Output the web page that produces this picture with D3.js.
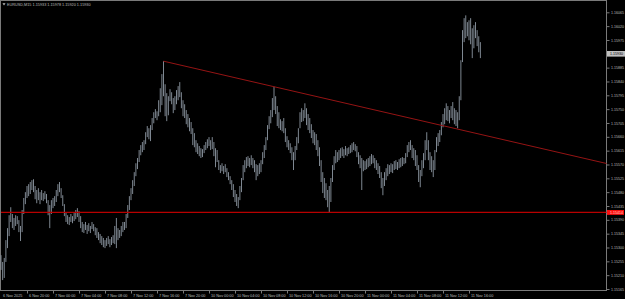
<!DOCTYPE html>
<html>
<head>
<meta charset="utf-8">
<script src="https://cdn.jsdelivr.net/npm/d3@7"></script>
<style>
html, body { margin: 0; padding: 0; background: #000; overflow: hidden; }
</style>
</head>
<body>
<div id="chart"></div>
<script>
// EURUSD M15 bars, first bar = 6 Nov 2025 16:00
var highs = [
  1.15275,1.15253,1.15266,1.15324,1.15363,1.15405,1.15431,1.15409,1.15396,1.15405,
  1.15402,1.15389,1.15370,1.15422,1.15461,1.15480,1.15500,1.15506,1.15513,1.15519,
  1.15522,1.15500,1.15487,1.15493,1.15480,1.15487,1.15477,1.15483,1.15474,1.15454,
  1.15438,1.15454,1.15461,1.15467,1.15487,1.15506,1.15513,1.15493,1.15470,1.15441,
  1.15415,1.15405,1.15399,1.15409,1.15402,1.15412,1.15422,1.15428,1.15418,1.15402,
  1.15383,1.15376,1.15383,1.15373,1.15379,1.15370,1.15383,1.15376,1.15366,1.15363,
  1.15350,1.15344,1.15337,1.15331,1.15324,1.15331,1.15337,1.15327,1.15334,1.15340,
  1.15370,1.15396,1.15363,1.15357,1.15370,1.15383,1.15383,1.15409,1.15438,1.15467,
  1.15493,1.15519,1.15545,1.15574,1.15591,1.15617,1.15633,1.15643,1.15649,1.15675,
  1.15695,1.15688,1.15698,1.15721,1.15740,1.15750,1.15743,1.15779,1.15818,1.15864,
  1.15906,1.15831,1.15802,1.15792,1.15815,1.15805,1.15786,1.15792,1.15812,1.15825,
  1.15838,1.15805,1.15779,1.15766,1.15747,1.15734,1.15721,1.15708,1.15688,1.15672,
  1.15649,1.15639,1.15630,1.15623,1.15620,1.15633,1.15643,1.15652,1.15659,1.15649,
  1.15659,1.15643,1.15623,1.15617,1.15584,1.15568,1.15574,1.15565,1.15571,1.15558,
  1.15545,1.15532,1.15519,1.15506,1.15487,1.15474,1.15464,1.15500,1.15526,1.15568,
  1.15584,1.15594,1.15597,1.15591,1.15600,1.15591,1.15584,1.15571,1.15568,1.15574,
  1.15584,1.15610,1.15633,1.15659,1.15698,1.15727,1.15747,1.15786,1.15823,1.15792,
  1.15760,1.15740,1.15717,1.15711,1.15721,1.15688,1.15662,1.15649,1.15639,1.15626,
  1.15610,1.15630,1.15659,1.15688,1.15740,1.15753,1.15747,1.15769,1.15753,1.15734,
  1.15721,1.15701,1.15682,1.15675,1.15669,1.15649,1.15626,1.15584,1.15545,1.15526,
  1.15509,1.15487,1.15500,1.15526,1.15568,1.15597,1.15617,1.15610,1.15617,1.15623,
  1.15626,1.15620,1.15630,1.15623,1.15626,1.15633,1.15639,1.15643,1.15636,1.15630,
  1.15610,1.15600,1.15591,1.15584,1.15581,1.15587,1.15591,1.15597,1.15604,1.15600,
  1.15591,1.15584,1.15574,1.15565,1.15545,1.15526,1.15545,1.15558,1.15571,1.15568,
  1.15574,1.15571,1.15581,1.15584,1.15578,1.15587,1.15591,1.15594,1.15591,1.15607,
  1.15633,1.15643,1.15649,1.15633,1.15623,1.15617,1.15600,1.15568,1.15552,1.15584,
  1.15607,1.15649,1.15675,1.15649,1.15610,1.15597,1.15584,1.15617,1.15659,1.15672,
  1.15682,1.15708,1.15734,1.15753,1.15769,1.15760,1.15747,1.15760,1.15773,1.15753,
  1.15747,1.15740,1.15792,1.15909,1.16007,1.16046,1.16055,1.16033,1.16039,1.16046,
  1.16013,1.16023,1.16033,1.16007,1.15987,1.15968
];
var lows = [
  1.15227,1.15194,1.15201,1.15253,1.15298,1.15337,1.15383,1.15363,1.15357,1.15370,
  1.15376,1.15350,1.15321,1.15350,1.15409,1.15441,1.15461,1.15467,1.15474,1.15487,
  1.15480,1.15457,1.15444,1.15454,1.15441,1.15454,1.15451,1.15457,1.15444,1.15405,
  1.15363,1.15409,1.15428,1.15435,1.15448,1.15467,1.15480,1.15461,1.15435,1.15402,
  1.15383,1.15376,1.15373,1.15383,1.15379,1.15386,1.15392,1.15399,1.15383,1.15363,
  1.15350,1.15347,1.15357,1.15344,1.15353,1.15347,1.15360,1.15353,1.15340,1.15331,
  1.15324,1.15314,1.15308,1.15301,1.15298,1.15305,1.15311,1.15301,1.15308,1.15314,
  1.15311,1.15298,1.15324,1.15331,1.15337,1.15350,1.15357,1.15363,1.15396,1.15422,
  1.15454,1.15474,1.15500,1.15532,1.15555,1.15578,1.15600,1.15610,1.15617,1.15636,
  1.15659,1.15652,1.15646,1.15682,1.15704,1.15721,1.15714,1.15727,1.15740,1.15763,
  1.15792,1.15727,1.15711,1.15730,1.15776,1.15766,1.15737,1.15747,1.15766,1.15779,
  1.15789,1.15753,1.15727,1.15721,1.15701,1.15691,1.15678,1.15669,1.15633,1.15626,
  1.15610,1.15604,1.15597,1.15591,1.15594,1.15607,1.15617,1.15623,1.15630,1.15617,
  1.15620,1.15597,1.15561,1.15578,1.15552,1.15542,1.15548,1.15539,1.15545,1.15529,
  1.15519,1.15506,1.15487,1.15464,1.15448,1.15435,1.15428,1.15454,1.15480,1.15519,
  1.15545,1.15558,1.15565,1.15561,1.15568,1.15558,1.15545,1.15519,1.15532,1.15539,
  1.15545,1.15571,1.15591,1.15617,1.15649,1.15685,1.15704,1.15724,1.15747,1.15734,
  1.15695,1.15688,1.15682,1.15678,1.15672,1.15643,1.15626,1.15617,1.15607,1.15584,
  1.15552,1.15584,1.15617,1.15639,1.15688,1.15708,1.15711,1.15721,1.15698,1.15682,
  1.15672,1.15656,1.15639,1.15633,1.15617,1.15597,1.15565,1.15513,1.15477,1.15461,
  1.15454,1.15431,1.15415,1.15448,1.15513,1.15552,1.15574,1.15578,1.15584,1.15591,
  1.15597,1.15591,1.15600,1.15597,1.15604,1.15607,1.15610,1.15617,1.15613,1.15594,
  1.15571,1.15558,1.15487,1.15548,1.15552,1.15555,1.15561,1.15565,1.15571,1.15574,
  1.15558,1.15552,1.15539,1.15526,1.15493,1.15470,1.15500,1.15519,1.15532,1.15539,
  1.15545,1.15542,1.15552,1.15555,1.15552,1.15558,1.15561,1.15565,1.15571,1.15574,
  1.15594,1.15610,1.15617,1.15591,1.15584,1.15565,1.15552,1.15513,1.15496,1.15532,
  1.15558,1.15584,1.15617,1.15584,1.15552,1.15545,1.15529,1.15552,1.15610,1.15630,
  1.15643,1.15665,1.15691,1.15701,1.15714,1.15711,1.15704,1.15721,1.15714,1.15701,
  1.15695,1.15688,1.15714,1.15779,1.15903,1.15968,1.15981,1.15987,1.15974,1.15961,
  1.15916,1.15948,1.15981,1.15955,1.15935,1.15916
];
var lastClose = 1.15930;
var header = "EURUSD,M15  1.15933 1.15978 1.15920 1.15930";

var priceTicks = [1.15165,1.15210,1.15255,1.15300,1.15345,1.15390,1.15435,1.15480,
  1.15525,1.15570,1.15615,1.15660,1.15705,1.15750,1.15795,1.15840,1.15885,
  1.15975,1.16020,1.16065];

var timeBars = [0,16,32,48,64,80,96,112,128,144,160,176,192,208,224,240,256,272,288];
var timeLabels = ["6 Nov 2025","6 Nov 20:00","7 Nov 00:00","7 Nov 04:00","7 Nov 08:00",
  "7 Nov 12:00","7 Nov 16:00","7 Nov 20:00","10 Nov 00:00","10 Nov 04:00","10 Nov 08:00",
  "10 Nov 12:00","10 Nov 16:00","10 Nov 20:00","11 Nov 00:00","11 Nov 04:00",
  "11 Nov 08:00","11 Nov 12:00","11 Nov 16:00"];

// horizontal support level and trendline anchors (bar index, price)
var supportLevel = 1.15414;
var trendA = [100, 1.15906];
var trendB = [168, 1.15823];

var W = 625, H = 299;
var plotR = 606.5, plotB = 290.5;

var svg = d3.select("#chart").append("svg")
    .attr("width", W)
    .attr("height", H)
    .style("display", "block")
    .style("background", "#000");

var x = d3.scaleLinear().domain([0, 372]).range([1, 605.5]);
var y = d3.scaleLinear().domain([1.15165, 1.16065]).range([289, 12.3]);

var font = "'Liberation Sans', Arial, sans-serif";

// frame
svg.append("rect")
    .attr("x", 0.5).attr("y", 0.5)
    .attr("width", plotR - 0.5).attr("height", plotB - 0.5)
    .attr("fill", "none")
    .attr("stroke", "#7a7a7a")
    .attr("stroke-width", 1);

var plot = svg.append("g");

// bars (high-low)
plot.selectAll("line.bar")
    .data(highs)
    .enter().append("line")
    .attr("class", "bar")
    .attr("x1", function(d, i) { return x(i); })
    .attr("x2", function(d, i) { return x(i); })
    .attr("y1", function(d) { return y(d); })
    .attr("y2", function(d, i) { return y(lows[i]); })
    .attr("stroke", "#8c96a2")
    .attr("stroke-width", 0.9);

// horizontal line
plot.append("line")
    .attr("x1", 1).attr("x2", plotR)
    .attr("y1", y(supportLevel)).attr("y2", y(supportLevel))
    .attr("stroke", "#b80000")
    .attr("stroke-width", 1.2);

// trendline ray
var slope = (trendB[1] - trendA[1]) / (trendB[0] - trendA[0]);
var endBar = x.invert(plotR);
plot.append("line")
    .attr("x1", x(trendA[0])).attr("y1", y(trendA[1]))
    .attr("x2", x(endBar)).attr("y2", y(trendA[1] + slope * (endBar - trendA[0])))
    .attr("stroke", "#951414")
    .attr("stroke-width", 1);

// price axis
var yAxis = svg.append("g")
    .attr("transform", "translate(" + plotR + ",0)")
    .call(d3.axisRight(y).tickValues(priceTicks).tickFormat(d3.format(".5f")).tickSize(3).tickPadding(1.5));
yAxis.select(".domain").remove();
yAxis.selectAll("line").attr("stroke", "#7a7a7a");
yAxis.selectAll("text")
    .attr("fill", "#bcbcbc")
    .style("font-family", font)
    .style("font-size", "3.6px");

// time axis
var xAxis = svg.append("g")
    .attr("transform", "translate(0," + plotB + ")")
    .call(d3.axisBottom(x).tickValues(timeBars)
      .tickFormat(function(d, i) { return timeLabels[i]; }).tickSize(3));
xAxis.select(".domain").remove();
xAxis.selectAll("line")
    .attr("stroke", "#7a7a7a")
    .attr("opacity", function(d, i) { return i === 0 ? 0 : 1; });
xAxis.selectAll("text")
    .attr("fill", "#bcbcbc")
    .attr("text-anchor", "start")
    .attr("x", 1.5)
    .attr("y", 3)
    .attr("dy", "0.9em")
    .style("font-family", font)
    .style("font-size", "3.8px");

// current price marker
var cp = svg.append("g").attr("transform", "translate(" + plotR + "," + y(lastClose) + ")");
cp.append("rect").attr("x", 0.5).attr("y", -2.8).attr("width", 18).attr("height", 5.6).attr("fill", "#c0c0c0");
cp.append("text").attr("x", 3.5).attr("y", 1.3).text(d3.format(".5f")(lastClose))
    .attr("fill", "#000").style("font-family", font).style("font-size", "3.6px");

// support level marker
var sp = svg.append("g").attr("transform", "translate(" + plotR + "," + y(supportLevel) + ")");
sp.append("rect").attr("x", 0.5).attr("y", -2.4).attr("width", 17).attr("height", 4.8).attr("fill", "#ff1010");
sp.append("text").attr("x", 3.5).attr("y", 1.3).text(d3.format(".5f")(supportLevel))
    .attr("fill", "#ffd0d0").style("font-family", font).style("font-size", "3.6px");

// header
svg.append("path")
    .attr("d", "M2.5,3.2 L5.5,3.2 L4,5.4 Z")
    .attr("fill", "#bcbcbc");
svg.append("text")
    .attr("x", 7).attr("y", 5.8)
    .attr("fill", "#bcbcbc")
    .style("font-family", font)
    .style("font-size", "3.8px")
    .text(header);
</script>
</body>
</html>
